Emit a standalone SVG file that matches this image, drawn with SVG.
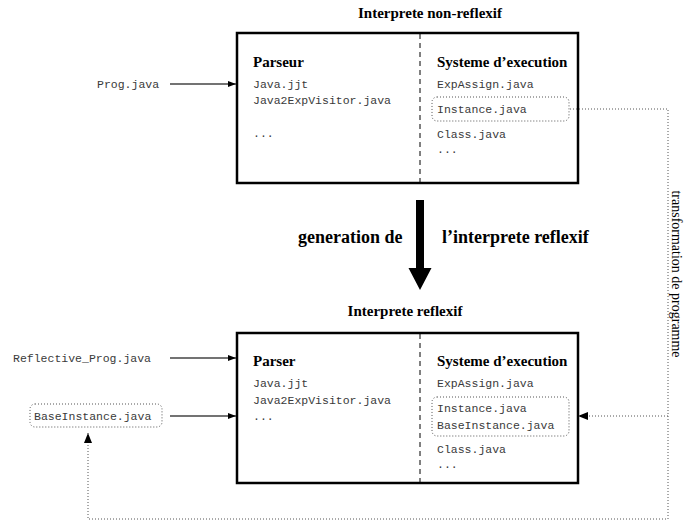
<svg xmlns="http://www.w3.org/2000/svg" width="684" height="525" viewBox="0 0 684 525">
<style>
.bg{fill:#fff}
.box{fill:none;stroke:#000;stroke-width:2.5}
.div{stroke:#000;stroke-width:1;stroke-dasharray:5 4}
.dot{fill:none;stroke:#555;stroke-width:1;stroke-dasharray:1 2}
.sol{fill:none;stroke:#444;stroke-width:1.4}
.h{font-family:"Liberation Serif","Times New Roman",serif;font-weight:bold;font-size:15px;fill:#000}
.big{font-family:"Liberation Serif","Times New Roman",serif;font-weight:bold;font-size:18px;fill:#000}
.rot{font-family:"Liberation Serif","Times New Roman",serif;font-size:14px;fill:#000}
.m{font-family:"Liberation Mono","Courier New",monospace;font-size:11.5px;fill:#3a3a3a}
</style>
<defs>
<marker id="ah" viewBox="0 0 8 6" refX="8" refY="3" markerWidth="8" markerHeight="6" markerUnits="userSpaceOnUse" orient="auto">
<path d="M0,0 L8,3 L0,6 z" fill="#000"/>
</marker>
<marker id="ah2" viewBox="0 0 10 8" refX="10" refY="4" markerWidth="10" markerHeight="8" markerUnits="userSpaceOnUse" orient="auto">
<path d="M0,0 L10,4 L0,8 z" fill="#000"/>
</marker>
</defs>
<rect class="bg" x="0" y="0" width="684" height="525"/>

<g id="top">
<text class="h" x="430" y="18" text-anchor="middle">Interprete non-reflexif</text>
<rect class="box" x="237" y="33" width="341" height="150"/>
<line class="div" x1="420" y1="34" x2="420" y2="182"/>
<text class="h" x="253" y="67">Parseur</text>
<text class="m" x="253" y="88">Java.jjt</text>
<text class="m" x="253" y="104">Java2ExpVisitor.java</text>
<text class="m" x="253" y="137">...</text>
<text class="h" x="437" y="67">Systeme d’execution</text>
<text class="m" x="437" y="88">ExpAssign.java</text>
<rect class="dot" x="432" y="97" width="137" height="24" rx="5"/>
<text class="m" x="437" y="113">Instance.java</text>
<text class="m" x="437" y="138">Class.java</text>
<text class="m" x="437" y="153">...</text>
</g>

<g id="prog">
<text class="m" x="97" y="88">Prog.java</text>
</g>

<g id="generation">
<path d="M416,200 H424 V268 H431.5 L420,290 L408.5,268 H416 Z" fill="#000"/>
<text class="big" x="298" y="243">generation de</text>
<text class="big" x="442" y="243">l’interprete reflexif</text>
</g>

<g id="bottom">
<text class="h" x="405" y="316" text-anchor="middle">Interprete reflexif</text>
<rect class="box" x="237" y="333" width="341" height="150"/>
<line class="div" x1="420" y1="334" x2="420" y2="482"/>
<text class="h" x="253" y="366">Parser</text>
<text class="m" x="253" y="387">Java.jjt</text>
<text class="m" x="253" y="404">Java2ExpVisitor.java</text>
<text class="m" x="253" y="420">...</text>
<text class="h" x="437" y="366">Systeme d’execution</text>
<text class="m" x="437" y="387">ExpAssign.java</text>
<rect class="dot" x="432" y="397" width="137" height="39" rx="5"/>
<text class="m" x="437" y="412">Instance.java</text>
<text class="m" x="437" y="429">BaseInstance.java</text>
<text class="m" x="437" y="453">Class.java</text>
<text class="m" x="437" y="468">...</text>
</g>

<g id="reflective">
<text class="m" x="13" y="362">Reflective_Prog.java</text>
</g>

<g id="baseinstance">
<rect class="dot" x="30" y="404" width="132" height="23" rx="5"/>
<text class="m" x="34" y="420">BaseInstance.java</text>
</g>

<g id="connectors">
<line class="sol" x1="170" y1="84" x2="236" y2="84" marker-end="url(#ah)"/>
<line class="sol" x1="170" y1="358" x2="236" y2="358" marker-end="url(#ah)"/>
<line class="sol" x1="170" y1="416" x2="236" y2="416" marker-end="url(#ah)"/>
<polyline class="dot" points="570,109 668,109 668,416 578,416" marker-end="url(#ah2)"/>
<polyline class="dot" points="668,416 668,519 88,519 88,433" marker-end="url(#ah2)"/>
<text class="rot" transform="translate(672,274) rotate(90)" text-anchor="middle">transformation de programme</text>
</g>
</svg>
